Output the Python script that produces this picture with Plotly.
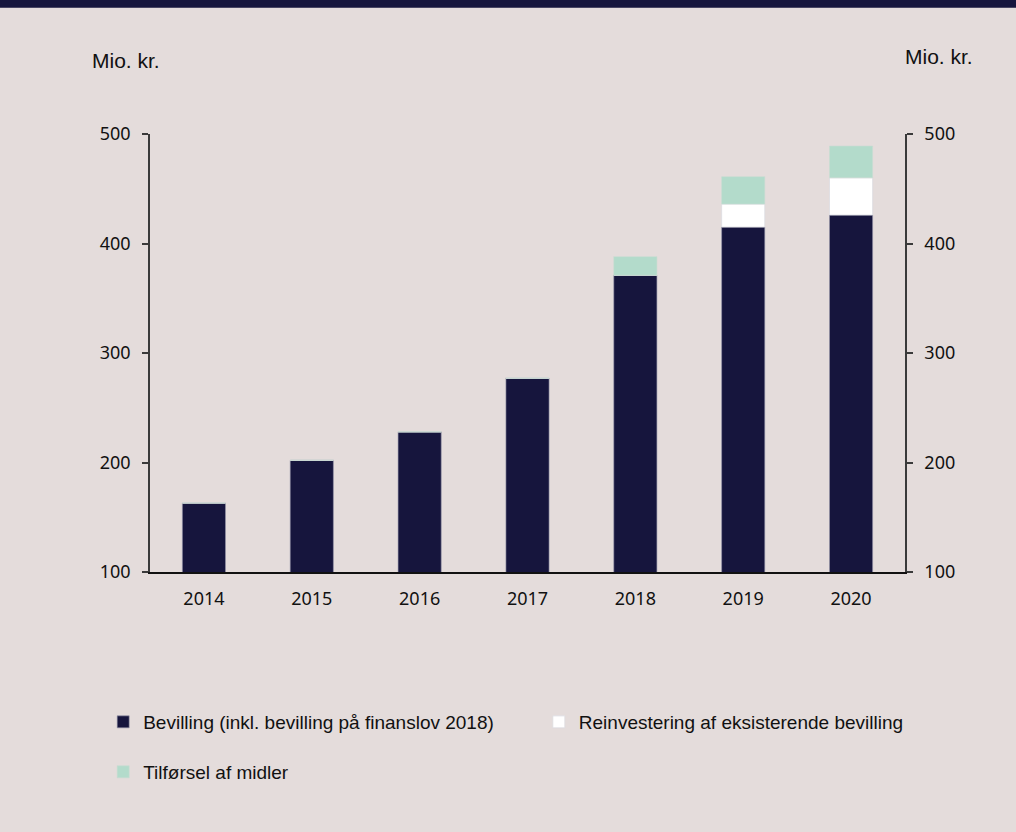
import plotly.graph_objects as go

years = ["2014", "2015", "2016", "2017", "2018", "2019", "2020"]
bevilling = [163, 202, 228, 277, 371, 415, 426]
reinvestering = [0, 0, 0, 0, 0, 21, 34]
tilfoersel = [0, 0, 0, 0, 17, 25, 29]

names = ["Bevilling (inkl. bevilling på finanslov 2018)",
         "Reinvestering af eksisterende bevilling",
         "Tilførsel af midler"]

NAVY = "#16153D"
GREEN = "#B3DBCB"
BG = "#E4DCDB"
AXIS = "#3a3a3a"

fig = go.Figure()
fig.add_trace(go.Bar(x=years, y=bevilling, name=names[0],
                     marker=dict(color=NAVY, line=dict(color="rgba(150,150,170,0.6)", width=1)),
                     legend="legend"))
fig.add_trace(go.Bar(x=years, y=reinvestering, base=bevilling, name=names[1],
                     marker=dict(color="#FFFFFF", line=dict(color="rgba(220,220,225,0.8)", width=1)),
                     legend="legend2"))
base3 = [b + r for b, r in zip(bevilling, reinvestering)]
fig.add_trace(go.Bar(x=years, y=tilfoersel, base=base3, name=names[2],
                     marker=dict(color=GREEN, line=dict(color="rgba(200,220,210,0.6)", width=1)),
                     legend="legend3"))

tickfont = dict(family="Noto Sans, Arial, sans-serif", size=18, color="#111111")
legfont = dict(family="Liberation Sans, Arial, sans-serif", size=19, color="#111111")
leg_common = dict(orientation="h", xanchor="left", yanchor="middle",
                  font=legfont, bgcolor="rgba(0,0,0,0)")

fig.update_layout(
    width=1016, height=832,
    paper_bgcolor=BG, plot_bgcolor=BG,
    margin=dict(l=150, r=111, t=134, b=260),
    barmode="overlay",
    bargap=0.6,
    xaxis=dict(type="category", showline=True, linecolor="#111111", linewidth=1.5,
               ticks="", tickfont=tickfont, showgrid=False, zeroline=False,
               range=[-0.5, 6.5], ticklabelstandoff=10),
    yaxis=dict(range=[100, 500], tickvals=[100, 200, 300, 400, 500],
               showline=True, linecolor=AXIS, linewidth=1.5, ticks="outside",
               ticklen=6, tickcolor=AXIS, tickwidth=1.5, tickfont=tickfont,
               showgrid=False, zeroline=False, ticklabelstandoff=8),
    yaxis2=dict(range=[100, 500], tickvals=[100, 200, 300, 400, 500],
                overlaying="y", side="right", anchor="x",
                showline=True, linecolor=AXIS, linewidth=1.5, ticks="outside",
                ticklen=6, tickcolor=AXIS, tickwidth=1.5, tickfont=tickfont,
                showgrid=False, zeroline=False, ticklabelstandoff=8),
    legend=dict(x=-0.062, y=-0.3425, **leg_common),
    legend2=dict(x=0.515, y=-0.3425, **leg_common),
    legend3=dict(x=-0.062, y=-0.4566, **leg_common),
    showlegend=True,
    shapes=[dict(type="rect", xref="paper", yref="paper", x0=-0.3, x1=1.3,
                 y0=1.288, y1=1.4, fillcolor="#16153D", line=dict(width=0), layer="above")],
    annotations=[
        dict(text="Mio. kr.", xref="paper", yref="paper", x=-0.08, y=1.167,
             xanchor="left", yanchor="middle", showarrow=False,
             font=dict(family="Liberation Sans, Arial, sans-serif", size=21, color="#111111")),
        dict(text="Mio. kr.", xref="paper", yref="paper", x=0.997, y=1.176,
             xanchor="left", yanchor="middle", showarrow=False,
             font=dict(family="Liberation Sans, Arial, sans-serif", size=21, color="#111111")),
    ],
)
# invisible trace to activate right axis
fig.add_trace(go.Scatter(x=[years[0]], y=[None], yaxis="y2", showlegend=False, hoverinfo="skip"))

fig.write_html("out.html", config={"displayModeBar": False},
               post_script="document.body.style.margin='0';document.body.style.overflow='hidden';")
